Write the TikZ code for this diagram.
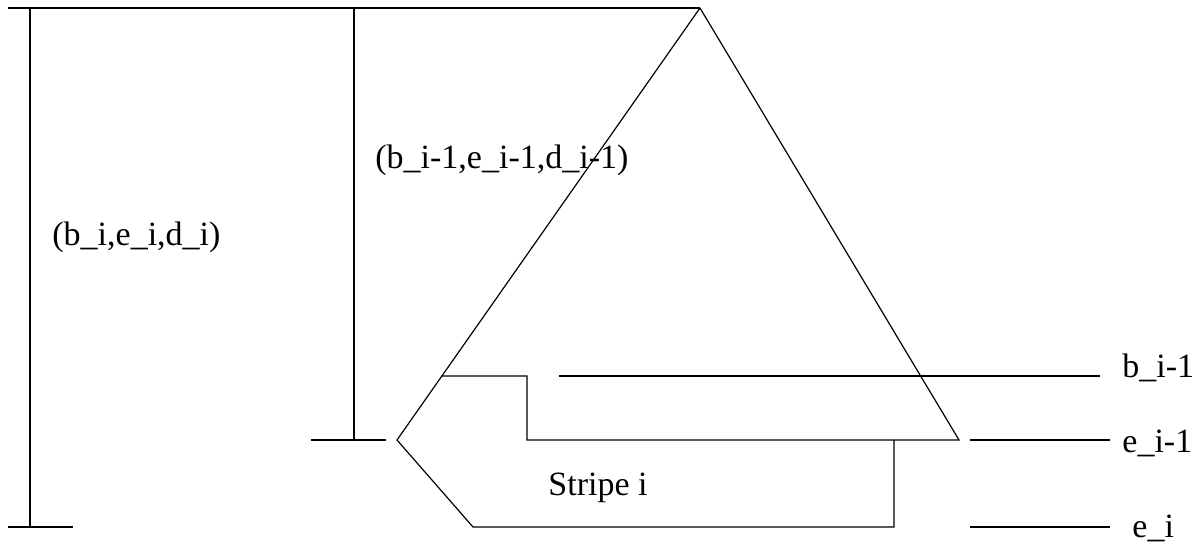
\documentclass[tikz,border=0pt]{standalone}
\usepackage{fontspec}
\setmainfont{Liberation Serif}
\usetikzlibrary{positioning}
\tikzset{
  ln/.style={line width=0.6pt, draw=black},
  lbl/.style={font=\fontsize{17}{20}\selectfont, inner sep=0pt, anchor=base west},
}

\begin{document}
\begin{tikzpicture}[x=0.5pt,y=-0.5pt]
  \useasboundingbox (0,0) rectangle (1201,543);
  % corners of the outline
  \coordinate (tl) at (8,8);
  \coordinate (apex) at (700,8);
  \coordinate (v1) at (30,8);
  \coordinate (v1b) at (30,527);
  \coordinate (v2) at (354,8);
  \coordinate (v2b) at (354,440);
  \coordinate (tip) at (397,440);
  \coordinate (lo) at (473,527);
  \coordinate (lor) at (894,527);
  \coordinate (mir) at (894,440);
  \coordinate (ri) at (959,440);
  \coordinate (st) at (527,440);
  \coordinate (ul) at (441,376);
  \coordinate (ur) at (527,376);
  % the two ranges on the left
  \draw[ln] (tl) -- (apex);
  \draw[ln] (v1) -- (v1b);
  \draw[ln] (8,527) -- (73,527);
  \draw[ln] (v2) -- (v2b);
  \draw[ln] (311,440) -- (386,440);
  % triangle and stripe
  \draw[ln] (apex) -- (tip) -- (lo) -- (lor) -- (mir);
  \draw[ln] (apex) -- (ri) -- (st) -- (ur) -- (ul);
  % levels on the right
  \draw[ln] (559,376) -- (1100,376);
  \draw[ln] (970,440) -- (1110,440);
  \draw[ln] (970,527) -- (1110,527);
  \node[lbl] (bi) at (1122,377) {b\_i-1};
  \node[lbl] (ei1) at (1122,452) {e\_i-1};
  \node[lbl] (ei) at (1132,537) {e\_i};
  \node[lbl] (stripe) at (548,495) {Stripe i};
  \node[lbl] (outer) at (52,245) {(b\_i,e\_i,d\_i)};
  \node[lbl] (inner) at (375,168) {(b\_i-1,e\_i-1,d\_i-1)};
\end{tikzpicture}
\end{document}
